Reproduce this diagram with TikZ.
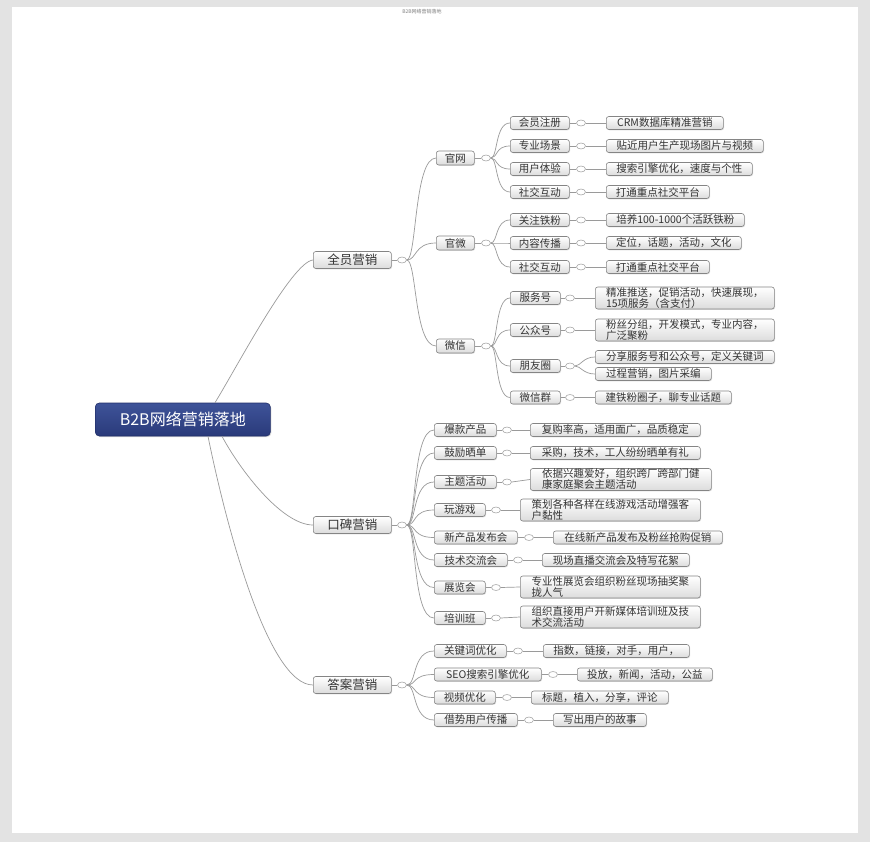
\documentclass[tikz,border=0pt]{standalone}
\usepackage{fontspec}
\setmainfont{Noto Sans CJK SC}
\usetikzlibrary{shapes.geometric,calc,shadows}
\definecolor{boxline}{HTML}{858585}
\definecolor{boxbot}{HTML}{DCDCDC}
\definecolor{txt}{HTML}{333333}
\definecolor{lineclr}{HTML}{9A9A9A}
\definecolor{knobline}{HTML}{A8A8A8}
\definecolor{rootA}{HTML}{3E5399}
\definecolor{rootB}{HTML}{2A3A7A}
\definecolor{rootline}{HTML}{22306A}
\definecolor{pagegray}{HTML}{E3E3E3}
\begin{document}
\begin{tikzpicture}[x=1pt,y=-1pt,
  mbox/.style={draw=boxline, line width=0.6pt, rounded corners=2.5pt, top color=white, bottom color=boxbot,
    text=txt, font=\fontsize{10.5}{12}\selectfont, inner sep=0pt, anchor=west, minimum height=13pt,
    drop shadow={opacity=0.25, shadow xshift=0.8pt, shadow yshift=-0.8pt}},
  lvlone/.style={mbox, minimum height=17pt, font=\fontsize{12.5}{14}\selectfont},
  lvltwo/.style={mbox, minimum height=14pt},
  twoline/.style={minimum height=22pt, align=left, font=\fontsize{10.5}{11}\selectfont},
  rootbox/.style={draw=rootline, line width=0.6pt, rounded corners=4pt, top color=rootA, bottom color=rootB,
    text=white, font=\fontsize{16}{18}\selectfont, inner sep=0pt, anchor=west,
    drop shadow={opacity=0.3, shadow xshift=1pt, shadow yshift=-1pt}},
  knob/.style={draw=knobline, line width=0.6pt, fill=white, ellipse, minimum width=9pt, minimum height=6pt, inner sep=0pt},
  conn/.style={draw=lineclr, line width=0.7pt}
]
\useasboundingbox (0,0) rectangle (870,842);
\fill[pagegray] (0,0) rectangle (870,842);
\fill[white] (12,7) rectangle (858,833);
\node[font=\fontsize{5}{6}\selectfont, text=gray] (title) at (422,12) {B2B网络营销落地};

% root
\node[rootbox, minimum width=175pt, minimum height=33pt] (root) at (95,419.5) {B2B网络营销落地};

% level 1
\node[lvlone, minimum width=78pt] (q1) at (313,260) {全员营销};
\node[lvlone, minimum width=78pt] (q2) at (313,525) {口碑营销};
\node[lvlone, minimum width=78pt] (q3) at (313,685) {答案营销};
\node[knob] (kq1) at (402,260) {};
\node[knob] (kq2) at (402,525) {};
\node[knob] (kq3) at (402,685) {};

% level 2 under 全员营销
\node[lvltwo, minimum width=38pt] (a1) at (436,158) {官网};
\node[lvltwo, minimum width=38pt] (a2) at (436,243) {官微};
\node[lvltwo, minimum width=38pt] (a3) at (436,346) {微信};
\node[knob] (ka1) at (486,158) {};
\node[knob] (ka2) at (486,243) {};
\node[knob] (ka3) at (486,346) {};

% level 3 under 官网 / 官微
\node[mbox, minimum width=59pt] (b1) at (510,123) {会员注册};
\node[mbox, minimum width=59pt] (b2) at (510,146) {专业场景};
\node[mbox, minimum width=59pt] (b3) at (510,169) {用户体验};
\node[mbox, minimum width=59pt] (b4) at (510,192) {社交互动};
\node[mbox, minimum width=59pt] (b5) at (510,220) {关注铁粉};
\node[mbox, minimum width=59pt] (b6) at (510,243) {内容传播};
\node[mbox, minimum width=59pt] (b7) at (510,267) {社交互动};
\foreach \ky/\yy in {kb1/123,kb2/146,kb3/169,kb4/192,kb5/220,kb6/243,kb7/267}
  \node[knob] (\ky) at (581,\yy) {};
\node[mbox, minimum width=117pt] (l1) at (606,123) {CRM数据库精准营销};
\node[mbox, minimum width=157pt] (l2) at (606,146) {贴近用户生产现场图片与视频};
\node[mbox, minimum width=146pt] (l3) at (606,169) {搜索引擎优化，速度与个性};
\node[mbox, minimum width=103pt] (l4) at (606,192) {打通重点社交平台};
\node[mbox, minimum width=138pt] (l5) at (606,220) {培养100-1000个活跃铁粉};
\node[mbox, minimum width=135pt] (l6) at (606,243) {定位，话题，活动，文化};
\node[mbox, minimum width=103pt] (l7) at (606,267) {打通重点社交平台};

% level 3 under 微信
\node[mbox, minimum width=50pt] (b8) at (510,298) {服务号};
\node[mbox, minimum width=50pt] (b9) at (510,330) {公众号};
\node[mbox, minimum width=50pt] (b10) at (510,366) {朋友圈};
\node[mbox, minimum width=50pt] (b11) at (510,397.5) {微信群};
\node[knob] (kb8) at (570,298) {};
\node[knob] (kb9) at (570,330) {};
\node[knob] (kb10) at (570,366) {};
\node[knob] (kb11) at (570,397.5) {};
\node[mbox, twoline, minimum width=179pt] (l8) at (595,298) {精准推送，促销活动，快速展现，\\15项服务（含支付）};
\node[mbox, twoline, minimum width=179pt] (l9) at (595,330) {粉丝分组，开发模式，专业内容，\\广泛聚粉};
\node[mbox, minimum width=179pt] (l10a) at (595,357) {分享服务号和公众号，定义关键词};
\node[mbox, minimum width=116pt] (l10b) at (595,374) {过程营销，图片采编};
\node[mbox, minimum width=136pt] (l11) at (595,397.5) {建铁粉圈子，聊专业话题};

% 口碑营销
\node[mbox, minimum width=62pt] (c1) at (434,430) {爆款产品};
\node[mbox, minimum width=62pt] (c2) at (434,453) {鼓励晒单};
\node[mbox, minimum width=62pt] (c3) at (434,482) {主题活动};
\node[mbox, minimum width=51pt] (c4) at (434,510) {玩游戏};
\node[mbox, minimum width=83pt] (c5) at (434,537.5) {新产品发布会};
\node[mbox, minimum width=73pt] (c6) at (434,560) {技术交流会};
\node[mbox, minimum width=51pt] (c7) at (434,587.5) {展览会};
\node[mbox, minimum width=51pt] (c8) at (434,618) {培训班};
\node[knob] (kc1) at (507,430) {};
\node[knob] (kc2) at (507,453) {};
\node[knob] (kc3) at (507,482) {};
\node[knob] (kc4) at (496,510) {};
\node[knob] (kc5) at (529,537.5) {};
\node[knob] (kc6) at (518,560) {};
\node[knob] (kc7) at (496,587.5) {};
\node[knob] (kc8) at (496,618) {};
\node[mbox, minimum width=170pt] (lc1) at (530,430) {复购率高，适用面广，品质稳定};
\node[mbox, minimum width=170pt] (lc2) at (530,453) {采购，技术，工人纷纷晒单有礼};
\node[mbox, twoline, minimum width=181pt] (lc3) at (530,479.5) {依据兴趣爱好，组织跨厂跨部门健\\康家庭聚会主题活动};
\node[mbox, twoline, minimum width=180pt] (lc4) at (520,510) {策划各种各样在线游戏活动增强客\\户黏性};
\node[mbox, minimum width=169pt] (lc5) at (553,537.5) {在线新产品发布及粉丝抢购促销};
\node[mbox, minimum width=147pt] (lc6) at (542,560) {现场直播交流会及特写花絮};
\node[mbox, twoline, minimum width=180pt] (lc7) at (520,587) {专业性展览会组织粉丝现场抽奖聚\\拢人气};
\node[mbox, twoline, minimum width=180pt] (lc8) at (520,617) {组织直接用户开新媒体培训班及技\\术交流活动};

% 答案营销
\node[mbox, minimum width=72pt] (d1) at (434,651) {关键词优化};
\node[mbox, minimum width=107pt] (d2) at (434,674.5) {SEO搜索引擎优化};
\node[mbox, minimum width=61pt] (d3) at (434,697.5) {视频优化};
\node[mbox, minimum width=83pt] (d4) at (434,720) {借势用户传播};
\node[knob] (kd1) at (518,651) {};
\node[knob] (kd2) at (553,674.5) {};
\node[knob] (kd3) at (507,697.5) {};
\node[knob] (kd4) at (529,720) {};
\node[mbox, minimum width=146pt] (ld1) at (543,651) {指数，链接，对手，用户，};
\node[mbox, minimum width=135pt] (ld2) at (577,674.5) {投放，新闻，活动，公益};
\node[mbox, minimum width=137pt] (ld3) at (531,697.5) {标题，植入，分享，评论};
\node[mbox, minimum width=93pt] (ld4) at (553,720) {写出用户的故事};

% ---------- connectors ----------
\begin{scope}[on background layer/.style={}]
\draw[conn] ($(root.north west)+(120,0)$) .. controls (238,365) and (292,262) .. (q1.west);
\draw[conn] ($(root.south west)+(127,0)$) .. controls (240,470) and (282,525) .. (q2.west);
\draw[conn] ($(root.south west)+(113,0)$) .. controls (226,525) and (268,685) .. (q3.west);

\foreach \pa/\kn in {q1/kq1,q2/kq2,q3/kq3,a1/ka1,a2/ka2,a3/ka3,
  b1/kb1,b2/kb2,b3/kb3,b4/kb4,b5/kb5,b6/kb6,b7/kb7,b8/kb8,b9/kb9,b10/kb10,b11/kb11,
  c1/kc1,c2/kc2,c3/kc3,c4/kc4,c5/kc5,c6/kc6,c7/kc7,c8/kc8,d1/kd1,d2/kd2,d3/kd3,d4/kd4}
  \draw[conn] (\pa.east) -- (\kn.west);

\foreach \ch in {a1,a2,a3}
  \draw[conn] (kq1.east) .. controls +(10,0) and +(-22,0) .. (\ch.west);
\foreach \ch in {c1,c2,c3,c4,c5,c6,c7,c8}
  \draw[conn] (kq2.east) .. controls +(10,0) and +(-22,0) .. (\ch.west);
\foreach \ch in {d1,d2,d3,d4}
  \draw[conn] (kq3.east) .. controls +(10,0) and +(-22,0) .. (\ch.west);
\foreach \ch in {b1,b2,b3,b4}
  \draw[conn] (ka1.east) .. controls +(7,0) and +(-15,0) .. (\ch.west);
\foreach \ch in {b5,b6,b7}
  \draw[conn] (ka2.east) .. controls +(7,0) and +(-15,0) .. (\ch.west);
\foreach \ch in {b8,b9,b10,b11}
  \draw[conn] (ka3.east) .. controls +(7,0) and +(-15,0) .. (\ch.west);
\foreach \ch in {l10a,l10b}
  \draw[conn] (kb10.east) .. controls +(6,0) and +(-12,0) .. (\ch.west);

\foreach \kn/\lf in {kb1/l1,kb2/l2,kb3/l3,kb4/l4,kb5/l5,kb6/l6,kb7/l7,kb8/l8,kb9/l9,kb11/l11,
  kc1/lc1,kc2/lc2,kc3/lc3,kc4/lc4,kc5/lc5,kc6/lc6,kc7/lc7,kc8/lc8,kd1/ld1,kd2/ld2,kd3/ld3,kd4/ld4}
  \draw[conn] (\kn.east) -- (\lf.west);
\end{scope}
\end{tikzpicture}
\end{document}
